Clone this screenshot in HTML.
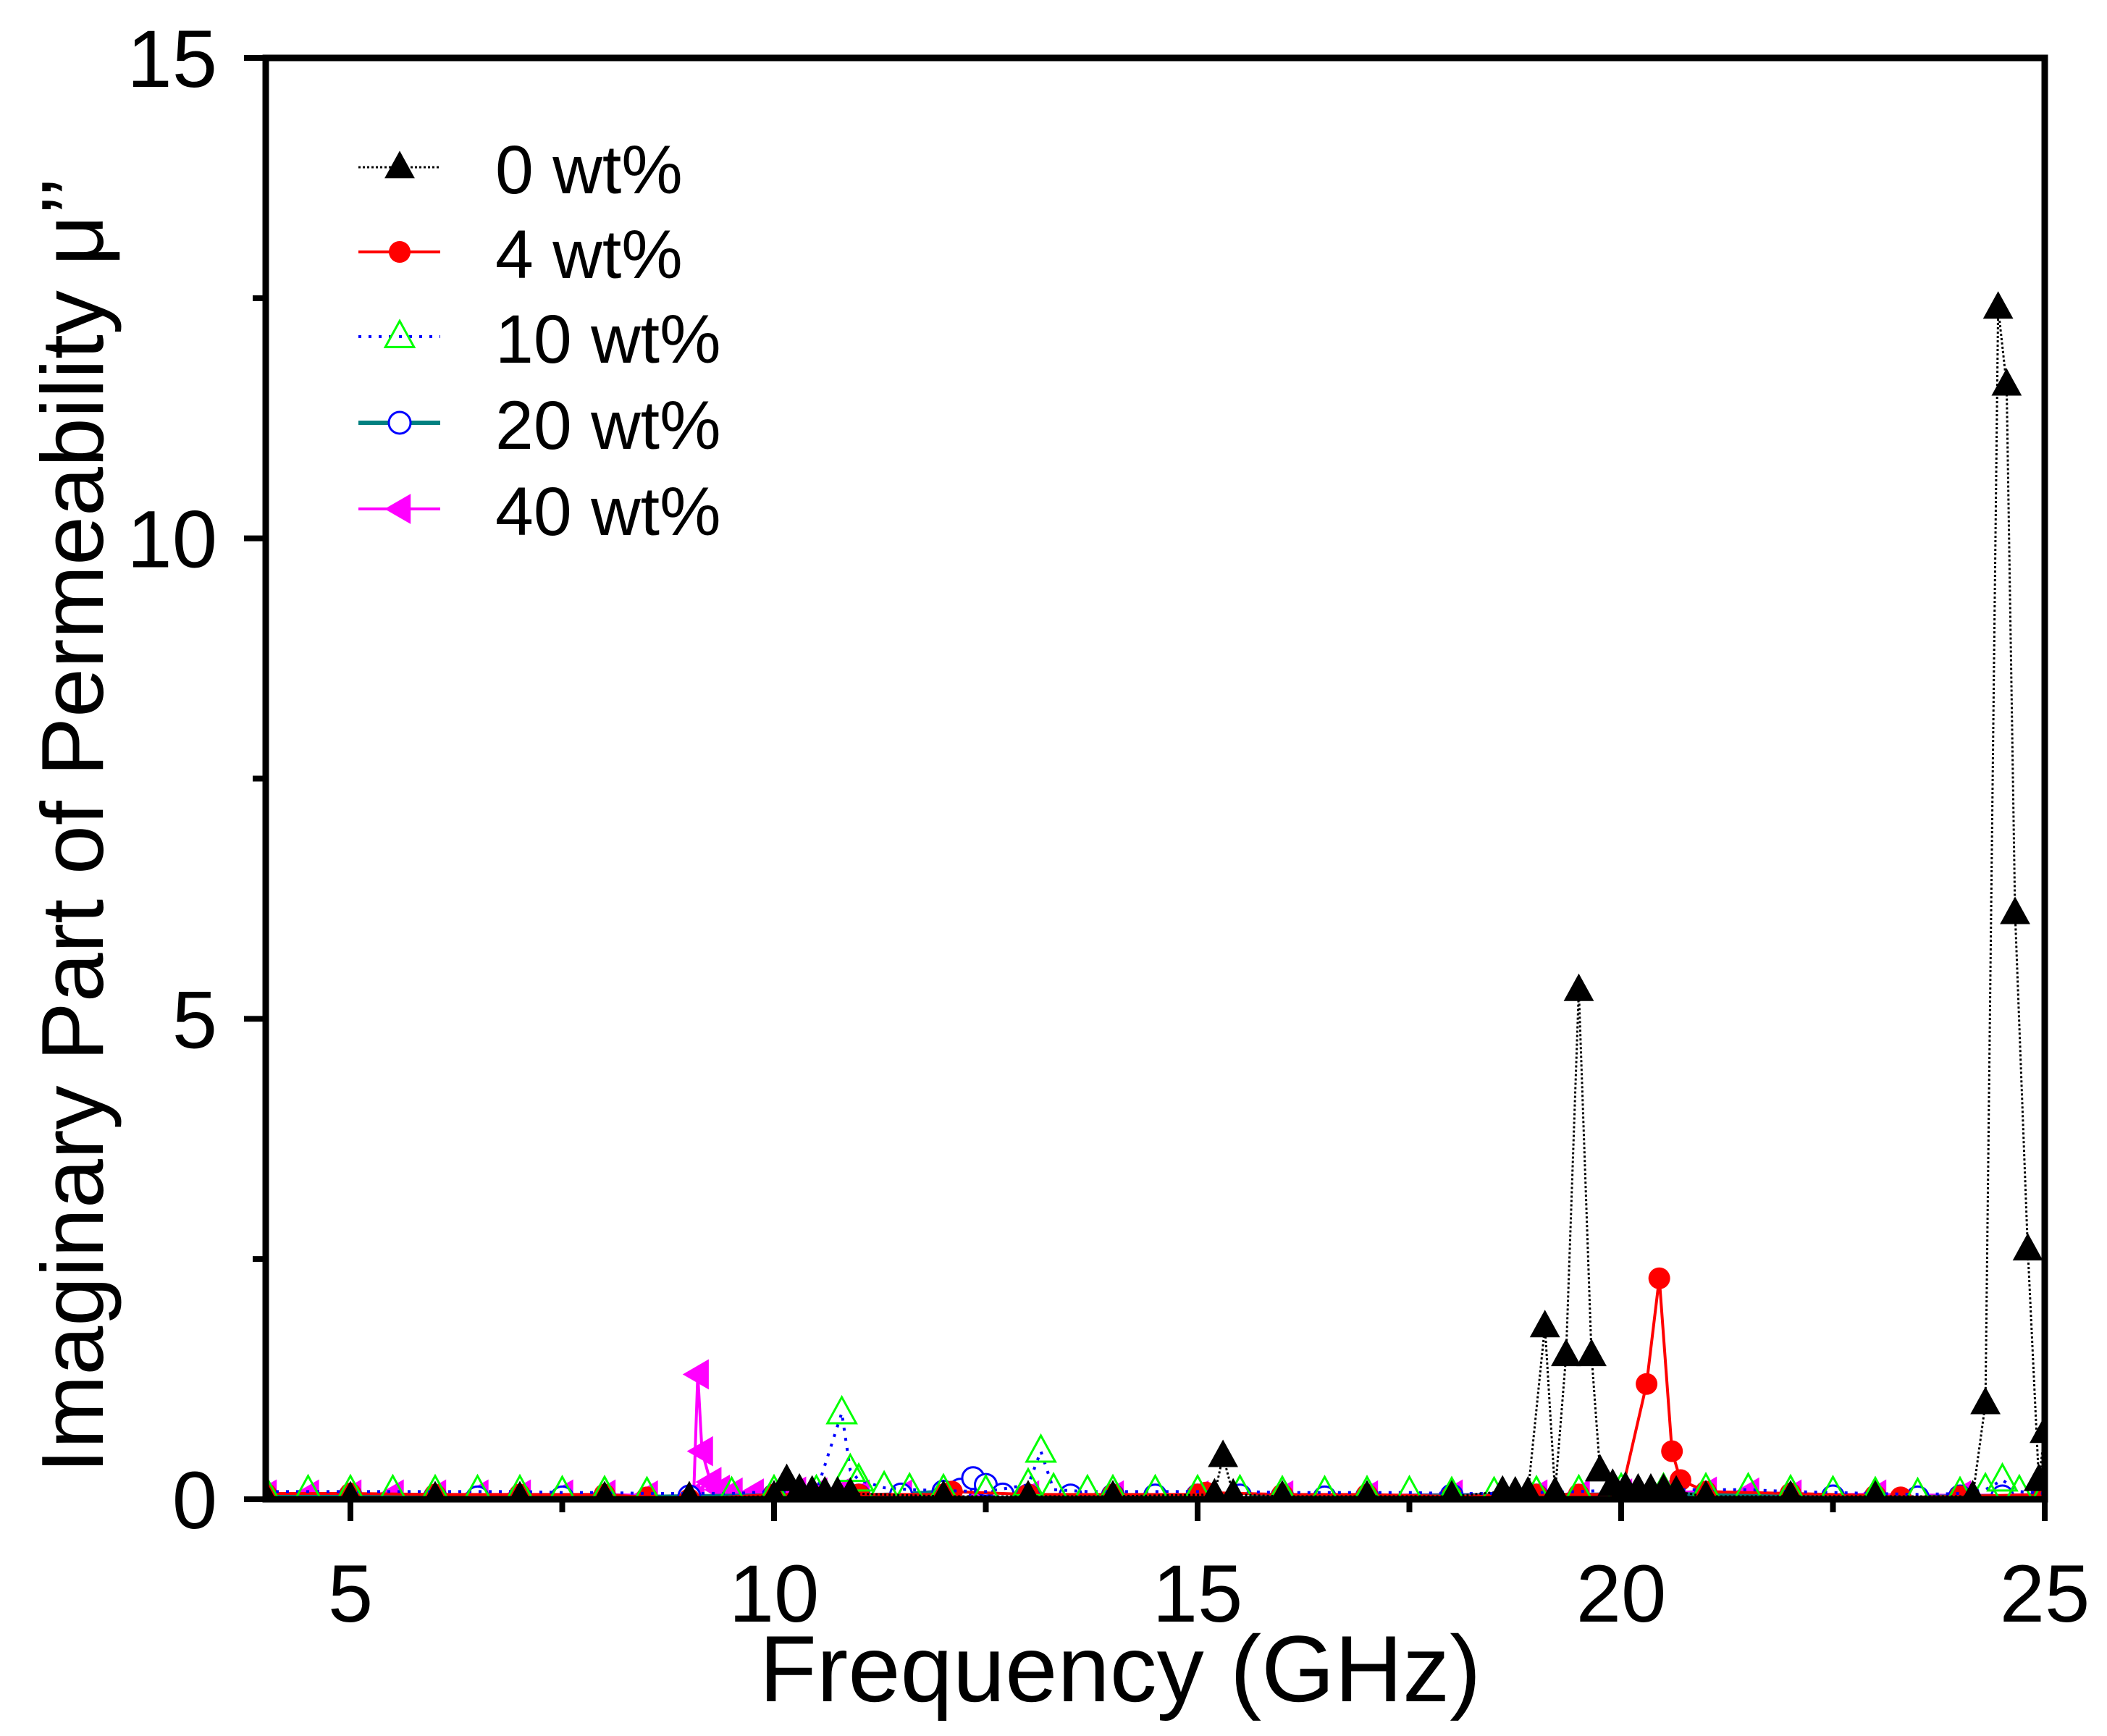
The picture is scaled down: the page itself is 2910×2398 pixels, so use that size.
<!DOCTYPE html>
<html><head><meta charset="utf-8"><style>
html,body{margin:0;padding:0;background:#fff;}
svg{display:block;font-family:"Liberation Sans",sans-serif;}
</style></head><body>
<svg id="chart" width="2910" height="2398" viewBox="0 0 2910 2398"></svg>
<script>
const xTicks=[5,10,15,20,25];
const yTicks=[0,5,10,15];
const xMinor=[7.5,12.5,17.5,22.5];
const yMinor=[2.5,7.5,12.5];
const seriesNames=["0 wt%","4 wt%","10 wt%","20 wt%","40 wt%"];
const x0=[4,5,6,7,8,9,10,10.15,10.3,10.45,10.6,10.75,10.9,12,13,14,15.2,15.3,15.42,16,17,18,18.6,18.75,18.9,19.1,19.22,19.35,19.5,19.65,19.75,19.9,20.05,20.2,20.35,20.5,20.65,21,22,23,24.15,24.3,24.45,24.55,24.65,24.8,24.93,25];
const y0=[0.02,0.02,0.02,0.02,0.02,0.02,0.03,0.2,0.1,0.08,0.07,0.07,0.06,0.03,0.03,0.03,0.05,0.45,0.05,0.03,0.03,0.03,0.08,0.07,0.07,1.8,0.07,1.5,5.3,1.5,0.3,0.15,0.12,0.1,0.1,0.1,0.08,0.03,0.03,0.03,0.03,1.0,12.4,11.6,6.1,2.6,0.2,0.7];
const x1=[4,5,6,7,8,8.5,9,10,11,12,12.1,13,14,15,15.1,16,17,18,19,19.5,20,20.3,20.45,20.6,20.7,21,22,23,23.3,24,25];
const y1=[0.06,0.06,0.05,0.05,0.05,0.02,0,0.05,0.05,0.05,0.08,0.05,0.05,0.05,0.07,0.05,0.05,0.03,0.05,0.05,0.05,1.2,2.3,0.5,0.2,0.08,0.06,0.04,0.02,0.03,0.05];
const x2=[4,4.5,5,5.5,6,6.5,7,7.5,8,8.5,9.5,10,10.5,10.8,10.9,11,11.3,11.6,12,12.5,13,13.15,13.3,13.7,14,14.5,15,15.5,16,16.5,17,17.5,18,18.5,19,19.5,20,20.5,21,21.5,22,22.5,23,23.5,24,24.3,24.5,24.7,25];
const y2=[0.08,0.08,0.08,0.08,0.08,0.08,0.08,0.07,0.07,0.06,0.06,0.08,0.08,0.9,0.3,0.2,0.12,0.1,0.09,0.08,0.15,0.5,0.1,0.08,0.08,0.08,0.08,0.08,0.07,0.07,0.07,0.07,0.06,0.06,0.07,0.08,0.1,0.1,0.1,0.1,0.08,0.07,0.06,0.05,0.06,0.1,0.2,0.08,0.06];
const x3=[4,5,6,6.5,7,7.5,8,9,10,11,11.5,12,12.2,12.35,12.5,12.7,13,13.5,14,14.5,15,15.5,16,16.5,17,18,19,20,21,22,22.5,23,23.5,24,24.5,25];
const y3=[0.04,0.04,0.03,0.02,0.02,0.02,0.02,0.03,0.04,0.04,0.05,0.08,0.1,0.22,0.15,0.05,0.04,0.04,0.04,0.04,0.04,0.04,0.03,0.02,0.03,0.04,0.04,0.05,0.05,0.03,0.03,0.02,0.02,0.03,0.03,0.04];
const x4=[4,4.5,5,5.5,6,6.5,7,7.5,8,8.5,9,9.05,9.1,9.15,9.25,9.35,9.5,9.75,10,10.25,10.5,10.75,11,11.5,12,13,14,15,16,17,18,19,19.5,20,20.5,21,21.5,22,23,24,25];
const y4=[0.05,0.05,0.05,0.05,0.05,0.05,0.05,0.05,0.05,0.04,0.02,0,1.3,0.5,0.18,0.1,0.07,0.06,0.07,0.08,0.07,0.06,0.05,0.05,0.05,0.04,0.04,0.04,0.04,0.04,0.05,0.05,0.05,0.06,0.07,0.08,0.07,0.05,0.05,0.04,0.05];

const L=367,R=2824,T=80,B=2071,XMIN=4,XMAX=25,YMAX=15;
const sx=v=>L+(v-XMIN)/(XMAX-XMIN)*(R-L);
const sy=v=>B-v/YMAX*(B-T);
const NS="http://www.w3.org/2000/svg";
const svg=document.getElementById('chart');
function mk(tag,attrs,parent){const e=document.createElementNS(NS,tag);for(const k in attrs)e.setAttribute(k,attrs[k]);(parent||svg).appendChild(e);return e;}

const clip=mk('clipPath',{id:'pc'});mk('rect',{x:L,y:T-30,width:R-L,height:B-T+30},clip);
const plot=mk('g',{'clip-path':'url(#pc)'});



function markerTri(g,cx,cy,fill,stroke,sz){const h=sz;return mk('polygon',{points:`${cx},${cy-h*0.6} ${cx-h*0.55},${cy+h*0.4} ${cx+h*0.55},${cy+h*0.4}`,fill:fill,stroke:stroke,'stroke-width':3},g);}
function markerLeft(g,cx,cy,sz){return mk('polygon',{points:`${cx-sz*0.55},${cy} ${cx+sz*0.4},${cy-sz*0.55} ${cx+sz*0.4},${cy+sz*0.55}`,fill:'#ff00ff'},g);}

const cfg=[
 {xs:x0,ys:y0,line:'#000',w:3,dash:'3 3',mark:(g,x,y)=>markerTri(g,x,y,'#000','none',38),name:'series-0wt'},
 {xs:x1,ys:y1,line:'#ff0000',w:4,dash:'',mark:(g,x,y)=>mk('circle',{cx:x,cy:y,r:15,fill:'#ff0000'},g),name:'series-4wt'},
 {xs:x2,ys:y2,line:'#0000ff',w:4,dash:'4 10',mark:(g,x,y)=>markerTri(g,x,y,'none','#00ff00',36),name:'series-10wt'},
 {xs:x3,ys:y3,line:'#008080',w:6,dash:'',mark:(g,x,y)=>mk('circle',{cx:x,cy:y,r:15,fill:'#fff',stroke:'#0000ff','stroke-width':3},g),name:'series-20wt'},
 {xs:x4,ys:y4,line:'#ff00ff',w:4,dash:'',mark:(g,x,y)=>markerLeft(g,x,y,38),name:'series-40wt'}
];
[4,3,1,2,0].forEach(i=>{
 const c=cfg[i];
 const g=mk('g',{},plot);
 
 
 const pts=c.xs.map((v,j)=>sx(v)+','+sy(c.ys[j])).join(' ');
 const pl=mk('polyline',{points:pts,fill:'none',stroke:c.line,'stroke-width':c.w,'stroke-dasharray':c.dash},g);
 
 
 c.xs.forEach((v,j)=>{const m=c.mark(g,sx(v),sy(c.ys[j]));
  
  });
});

const frame=mk('rect',{x:L,y:T,width:R-L,height:B-T,fill:'none',stroke:'#000','stroke-width':9});


xTicks.forEach(v=>{
 const t=mk('line',{x1:sx(v),x2:sx(v),y1:B,y2:B+30,stroke:'#000','stroke-width':8});
 
 
 const tx=mk('text',{x:sx(v),y:2240,'font-size':112,'text-anchor':'middle'});tx.textContent=v;
 
 
});
xMinor.forEach(v=>{const t=mk('line',{x1:sx(v),x2:sx(v),y1:B,y2:B+18,stroke:'#000','stroke-width':8});
 
 });
yTicks.forEach(v=>{
 const t=mk('line',{x1:L-30,x2:L,y1:sy(v),y2:sy(v),stroke:'#000','stroke-width':8});
 
 
 const tx=mk('text',{x:300,y:sy(v)+40,'font-size':112,'text-anchor':'end'});tx.textContent=v;
 
 
});
yMinor.forEach(v=>{const t=mk('line',{x1:L-18,x2:L,y1:sy(v),y2:sy(v),stroke:'#000','stroke-width':8});
 
 });

const xt=mk('text',{x:1547,y:2350,'font-size':130,'text-anchor':'middle'});xt.textContent='Frequency (GHz)';


const yt=mk('text',{x:0,y:0,'font-size':122,'text-anchor':'middle',transform:'translate(142,1140) rotate(-90)'});yt.textContent='Imaginary Part of Permeability μ’’';



const lg=mk('g',{});


const ly=[231,348,465,584,703];
seriesNames.forEach((n,i)=>{
 const c=cfg[i];const g=mk('g',{},lg);
 
 
 mk('line',{x1:495,x2:608,y1:ly[i],y2:ly[i],stroke:c.line,'stroke-width':c.w,'stroke-dasharray':c.dash},g);
 c.mark(g,552,ly[i]);
 const t=mk('text',{x:684,y:ly[i]+36,'font-size':95},g);t.textContent=n;
});
</script>
</body></html>
